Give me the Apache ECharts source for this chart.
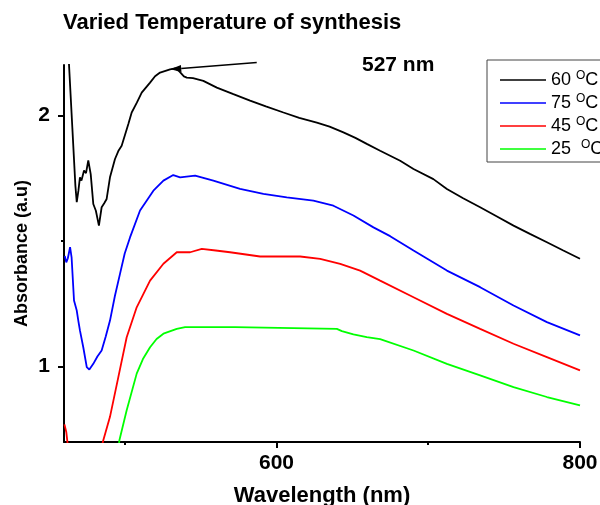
<!DOCTYPE html>
<html><head><meta charset="utf-8">
<script src="https://cdn.jsdelivr.net/npm/echarts@6/dist/echarts.min.js"></script>
<style>html,body{margin:0;padding:0;background:#fff}#c{width:600px;height:505px}</style>
</head><body><div id="c"></div>
<script>
// ---------- data ----------
const seriesNames = ['60 °C', '75 °C', '45 °C', '25  °C'];

const wl60 = [462.5,463.4,465.5,467.5,468.4,469.5,470.5,471.5,473.2,474.5,476,477.6,479.3,481,483,484.8,486.5,488.1,490.3,493.6,496,498,502.4,504.6,508,511.2,516.7,520,523.3,529.9,533.2,536,539,540.9,545,551.8,560.7,571.6,582.6,593,604.6,615,626.6,635,644.1,652,659.5,668.3,681.5,690.3,703.4,712.3,723,734.2,745,756.2,767,778.2,789,800];
const abs60 = [2.30,2.19,1.95,1.72,1.654,1.70,1.753,1.74,1.78,1.77,1.82,1.766,1.647,1.62,1.561,1.634,1.65,1.667,1.753,1.826,1.86,1.879,1.965,2.011,2.05,2.09,2.13,2.155,2.17,2.183,2.187,2.175,2.155,2.15,2.148,2.137,2.11,2.084,2.058,2.035,2.011,1.99,1.971,1.955,1.932,1.91,1.886,1.859,1.819,1.786,1.746,1.707,1.67,1.634,1.598,1.561,1.528,1.495,1.462,1.429];

const wl75 = [460.5,461.5,462.5,464,465,466.6,468.4,469.5,470.5,472.7,475,476.7,479.3,482,484.8,487.5,490.3,493.5,496.9,500,503.5,510.1,518.9,525.5,532,536.5,546.4,558.4,576,591.4,606.8,624.3,637.5,650.7,663.9,674.9,690.3,712.3,734.2,756.2,778.2,800];
const abs75 = [1.44,1.415,1.43,1.475,1.435,1.263,1.223,1.18,1.144,1.077,0.998,0.988,1.011,1.04,1.064,1.12,1.183,1.28,1.369,1.45,1.514,1.621,1.7,1.74,1.762,1.753,1.76,1.74,1.707,1.687,1.673,1.66,1.64,1.601,1.554,1.519,1.462,1.382,1.316,1.243,1.177,1.124];

const wl45 = [460.3,461.5,463,null,484,485.9,490.3,495.8,501.3,507.9,516.7,525.5,534.3,543.1,550.8,560,569.4,589.2,615.6,628.8,642,655.1,668.3,690.3,712.3,734.2,756.2,778.2,800];
const abs45 = [0.77,0.74,0.66,null,0.66,0.707,0.80,0.958,1.117,1.236,1.342,1.409,1.455,1.455,1.468,1.462,1.455,1.438,1.438,1.429,1.409,1.382,1.342,1.276,1.21,1.15,1.091,1.038,0.985];

const wl25 = [495.5,496.5,501.3,507.9,512,516.7,521,525.5,534.3,539.8,572.7,573.5,639.8,643.1,650.7,659.5,668.3,690.3,712.3,734.2,756.2,778.2,800];
const abs25 = [0.66,0.707,0.826,0.972,1.03,1.077,1.11,1.131,1.15,1.157,1.157,1.15,1.15,1.141,1.128,1.117,1.109,1.064,1.011,0.965,0.918,0.879,0.846];

const xTickLabels = [600, 800];
const xMinorTicks = [500, 700];
const yTickLabels = [1, 2];
const yMinorTicks = [1.5];

const peakLabel = '527 nm';
const peakPoint = [530, 2.183];
const arrowTail = [587, 2.21];

// ---------- chart ----------
const colors = ['#000000', '#0000ff', '#ff0000', '#00ff00'];
const wls = [wl60, wl75, wl45, wl25];
const abss = [abs60, abs75, abs45, abs25];
const zip = (a, b) => a.map((v, i) => (v === null ? [null, null] : [v, b[i]]));

const font = 'Arial, "Liberation Sans", sans-serif';
const chart = echarts.init(document.getElementById('c'), null, {renderer: 'canvas'});

const axisBlack = {color: '#000', width: 2};

chart.setOption({
  animation: false,
  backgroundColor: '#fff',
  title: {
    text: 'Varied Temperature of synthesis',
    left: 63, top: 12, padding: 0,
    textStyle: {fontFamily: font, fontSize: 22, fontWeight: 'bold', color: '#000'}
  },
  legend: {
    orient: 'vertical',
    left: 487, top: 60,
    padding: [10, 40, 4, 13],
    icon: 'rect', itemWidth: 46, itemHeight: 1.6, itemGap: 4,
    borderColor: '#444', borderWidth: 1,
    data: seriesNames,
    formatter: n => n.replace('°', '{s|O}'),
    textStyle: {
      fontFamily: font, fontSize: 18, color: '#000',
      rich: {s: {fontFamily: font, fontSize: 12, color: '#000', padding: [0, 0, 8, 0]}}
    }
  },
  grid: {left: 64, right: 20, top: 65, bottom: 63, containLabel: false, outerBoundsMode: 'none'},
  xAxis: [{
    type: 'value', min: 460, max: 800,
    axisLine: {onZero: false, lineStyle: axisBlack},
    axisTick: {customValues: xTickLabels, length: 6, lineStyle: axisBlack},
    axisLabel: {customValues: xTickLabels, margin: 11, fontFamily: font, fontSize: 21, fontWeight: 'bold', color: '#000'},
    splitLine: {show: false},
    name: 'Wavelength (nm)', nameLocation: 'middle', nameGap: 43, nameMoveOverlap: false,
    nameTextStyle: {fontFamily: font, fontSize: 22, fontWeight: 'bold', color: '#000'}
  }, {
    type: 'value', min: 460, max: 800, position: 'bottom',
    axisLine: {show: false},
    axisTick: {customValues: xMinorTicks, length: 3, lineStyle: axisBlack},
    axisLabel: {show: false}, splitLine: {show: false}
  }],
  yAxis: [{
    type: 'value', min: 0.7, max: 2.2,
    axisLine: {onZero: false, lineStyle: axisBlack},
    axisTick: {customValues: yTickLabels, length: 6, lineStyle: axisBlack},
    axisLabel: {customValues: yTickLabels, margin: 14, fontFamily: font, fontSize: 21, fontWeight: 'bold', color: '#000'},
    splitLine: {show: false},
    name: 'Absorbance (a.u)', nameLocation: 'middle', nameGap: 33, nameMoveOverlap: false,
    nameTextStyle: {fontFamily: font, fontSize: 18, fontWeight: 'bold', color: '#000'}
  }, {
    type: 'value', min: 0.7, max: 2.2, position: 'left',
    axisLine: {show: false},
    axisTick: {customValues: yMinorTicks, length: 3, lineStyle: axisBlack},
    axisLabel: {show: false}, splitLine: {show: false}
  }],
  series: seriesNames.map((n, i) => ({
    name: n, type: 'line', xAxisIndex: 0, yAxisIndex: 0,
    symbol: 'none', showSymbol: false, clip: true, connectNulls: false,
    color: colors[i],
    lineStyle: {color: colors[i], width: 1.8},
    data: zip(wls[i], abss[i])
  }))
});

// annotation: arrow pointing at peak + label
const tip = chart.convertToPixel({xAxisIndex: 0, yAxisIndex: 0}, peakPoint);
const tail = chart.convertToPixel({xAxisIndex: 0, yAxisIndex: 0}, arrowTail);
const dx = tail[0] - tip[0], dy = tail[1] - tip[1];
const L = Math.hypot(dx, dy), ux = dx / L, uy = dy / L;
const hl = 11, hw = 3.5;
const base = [tip[0] + ux * hl, tip[1] + uy * hl];
chart.setOption({
  graphic: [
    {type: 'line', shape: {x1: tail[0], y1: tail[1], x2: base[0], y2: base[1]}, style: {stroke: '#000', lineWidth: 1.5}, z: 100},
    {type: 'polygon', shape: {points: [tip, [base[0] - uy * hw, base[1] + ux * hw], [base[0] + uy * hw, base[1] - ux * hw]]}, style: {fill: '#000'}, z: 100},
    {type: 'text', left: 362, top: 55, style: {text: peakLabel, fontFamily: font, fontSize: 21, fontWeight: 'bold', fill: '#000'}, z: 100}
  ]
});
</script></body></html>
